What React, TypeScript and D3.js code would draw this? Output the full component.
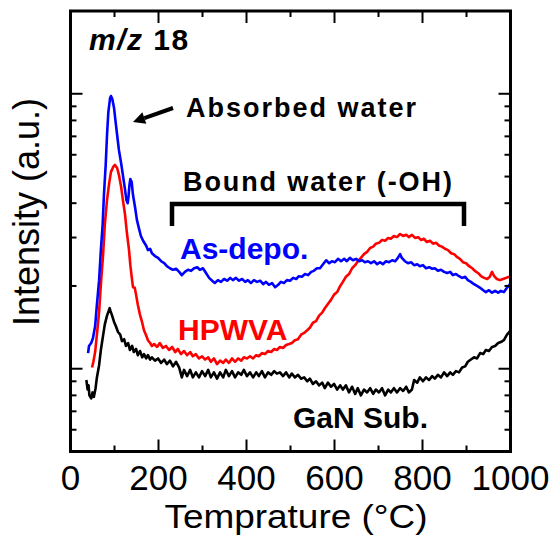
import React from 'react';
import * as d3 from 'd3';

const W = 551;
const H = 536;

const xMajorTicks = [0, 200, 400, 600, 800, 1000];
const xMinorTicks = [100, 300, 500, 700, 900];
const yTicks = [0.6, 0.7, 0.8, 0.9, 1, 2, 3, 4, 5, 6, 7, 8, 9, 10];
const yMajorTicks = [1, 10];

// [temperature (°C), intensity (a.u.)]
const asDepo: [number, number][] = [[40,1.14],[42,1.21],[47,1.24],[51,1.29],[56,1.43],[60,1.71],[65,2.10],[69,2.70],[73,3.34],[76,4.29],[80,5.51],[83,7.08],[86,8.58],[90,9.65],[92,9.81],[95,9.57],[99,8.87],[102,8.03],[106,7.08],[110,6.25],[115,5.60],[119,5.07],[124,4.47],[127,4.11],[130,4.00],[132,4.25],[134,4.66],[136,4.90],[139,4.78],[142,4.29],[147,3.84],[151,3.47],[156,3.22],[160,3.04],[165,2.92],[172,2.80],[176,2.70],[181,2.73],[185,2.63],[192,2.57],[199,2.53],[206,2.46],[213,2.42],[219,2.36],[226,2.32],[233,2.29],[240,2.31],[247,2.25],[253,2.19],[260,2.25],[267,2.29],[274,2.27],[281,2.32],[288,2.34],[294,2.29],[301,2.32],[308,2.23],[315,2.14],[322,2.09],[328,2.05],[335,2.10],[342,2.07],[349,2.12],[356,2.09],[363,2.14],[369,2.10],[376,2.14],[383,2.09],[390,2.12],[397,2.07],[403,2.10],[410,2.05],[417,2.10],[424,2.07],[431,2.09],[438,2.03],[444,2.07],[451,2.02],[458,2.05],[465,1.98],[472,2.02],[478,2.07],[485,2.05],[492,2.10],[499,2.09],[506,2.14],[513,2.12],[519,2.17],[526,2.16],[533,2.21],[540,2.19],[547,2.25],[553,2.27],[560,2.32],[567,2.32],[574,2.40],[581,2.48],[588,2.42],[594,2.46],[601,2.44],[608,2.51],[615,2.46],[622,2.51],[628,2.46],[635,2.53],[642,2.48],[649,2.51],[656,2.46],[663,2.48],[669,2.44],[676,2.46],[683,2.42],[690,2.46],[697,2.40],[703,2.44],[710,2.40],[717,2.46],[724,2.44],[731,2.48],[738,2.46],[744,2.53],[749,2.61],[753,2.53],[760,2.46],[767,2.42],[774,2.44],[781,2.38],[788,2.40],[794,2.36],[801,2.38],[808,2.32],[815,2.34],[822,2.31],[828,2.32],[835,2.27],[842,2.29],[849,2.25],[856,2.23],[863,2.25],[869,2.19],[876,2.21],[883,2.17],[890,2.14],[897,2.16],[903,2.10],[910,2.07],[917,2.03],[924,2.00],[931,1.97],[938,1.93],[944,1.90],[951,1.93],[958,1.89],[965,1.92],[972,1.89],[978,1.92],[985,1.90],[992,1.97],[999,2.03]];

const hpwva: [number, number][] = [[49,1.01],[52,1.06],[56,1.15],[60,1.33],[65,1.61],[69,2.02],[74,2.59],[78,3.34],[83,4.11],[88,4.74],[92,5.20],[97,5.42],[101,5.51],[106,5.37],[110,5.07],[115,4.59],[119,4.11],[124,3.63],[128,3.14],[133,2.70],[136,2.38],[140,2.10],[142,1.98],[146,1.97],[149,1.86],[153,1.71],[158,1.57],[163,1.47],[167,1.38],[172,1.32],[176,1.27],[181,1.24],[185,1.21],[190,1.23],[197,1.20],[203,1.24],[210,1.19],[217,1.21],[224,1.17],[231,1.20],[238,1.15],[244,1.18],[251,1.13],[258,1.16],[265,1.12],[272,1.15],[278,1.11],[285,1.13],[292,1.09],[299,1.11],[306,1.08],[313,1.10],[319,1.06],[326,1.09],[333,1.04],[340,1.07],[347,1.05],[353,1.08],[360,1.05],[367,1.09],[374,1.06],[381,1.09],[388,1.07],[394,1.10],[401,1.09],[408,1.11],[415,1.09],[422,1.12],[428,1.11],[435,1.14],[442,1.13],[449,1.16],[456,1.15],[463,1.18],[469,1.17],[476,1.20],[483,1.19],[490,1.22],[497,1.23],[503,1.24],[510,1.27],[517,1.28],[524,1.33],[531,1.35],[538,1.38],[544,1.41],[551,1.47],[558,1.49],[565,1.56],[572,1.60],[578,1.66],[585,1.72],[592,1.78],[599,1.86],[606,1.90],[613,2.00],[619,2.07],[626,2.16],[633,2.21],[640,2.32],[647,2.38],[653,2.46],[660,2.53],[667,2.61],[674,2.66],[681,2.75],[688,2.78],[694,2.85],[701,2.87],[708,2.94],[715,2.92],[722,2.99],[728,2.97],[735,3.04],[742,3.01],[749,3.09],[756,3.04],[763,3.07],[769,3.01],[776,3.07],[783,2.99],[790,3.01],[797,2.94],[803,2.97],[810,2.89],[817,2.92],[824,2.85],[831,2.87],[838,2.80],[844,2.78],[851,2.73],[858,2.70],[865,2.63],[872,2.61],[878,2.55],[885,2.51],[892,2.44],[899,2.42],[906,2.36],[913,2.32],[919,2.27],[926,2.23],[933,2.17],[940,2.14],[947,2.12],[953,2.16],[958,2.25],[963,2.17],[969,2.12],[976,2.10],[983,2.12],[990,2.14],[997,2.16],[1000,2.17]];

const ganSub: [number, number][] = [[36,0.91],[39,0.84],[41,0.87],[43,0.80],[47,0.78],[50,0.82],[53,0.79],[57,0.85],[60,0.93],[65,1.03],[69,1.17],[74,1.32],[78,1.45],[83,1.56],[89,1.66],[91,1.62],[94,1.57],[99,1.48],[103,1.43],[108,1.36],[113,1.33],[117,1.26],[122,1.28],[126,1.21],[131,1.24],[135,1.17],[140,1.21],[144,1.15],[149,1.18],[153,1.12],[158,1.16],[163,1.10],[167,1.13],[172,1.09],[176,1.12],[181,1.08],[185,1.10],[192,1.07],[199,1.09],[206,1.05],[213,1.08],[219,1.04],[226,1.07],[233,1.02],[240,1.06],[247,1.01],[253,0.93],[258,0.99],[265,0.94],[272,0.99],[278,0.93],[285,0.97],[292,0.93],[299,0.98],[306,0.94],[313,0.99],[319,0.93],[326,0.97],[333,0.92],[340,0.97],[347,0.93],[353,0.99],[360,0.94],[367,0.98],[374,0.93],[381,0.97],[388,0.95],[394,0.99],[401,0.94],[408,0.97],[415,0.93],[422,0.97],[428,0.94],[435,0.98],[442,0.93],[449,0.97],[456,0.95],[463,0.98],[469,0.96],[476,0.97],[483,0.94],[490,0.97],[497,0.93],[503,0.96],[510,0.93],[517,0.95],[524,0.92],[531,0.93],[538,0.90],[544,0.92],[551,0.88],[558,0.90],[565,0.87],[572,0.89],[578,0.85],[585,0.89],[592,0.86],[599,0.88],[606,0.84],[613,0.87],[619,0.84],[626,0.87],[633,0.82],[640,0.86],[647,0.81],[653,0.85],[660,0.80],[667,0.84],[674,0.82],[681,0.85],[688,0.81],[694,0.84],[701,0.82],[708,0.85],[715,0.80],[722,0.84],[728,0.82],[735,0.85],[742,0.82],[749,0.85],[756,0.83],[763,0.86],[769,0.82],[776,0.84],[781,0.91],[788,0.89],[794,0.93],[801,0.90],[808,0.93],[815,0.91],[822,0.94],[828,0.92],[835,0.95],[842,0.93],[849,0.97],[856,0.94],[863,0.97],[869,0.95],[876,0.98],[883,0.97],[890,1.01],[897,1.02],[903,1.06],[910,1.08],[917,1.10],[924,1.09],[931,1.14],[938,1.13],[944,1.17],[951,1.16],[958,1.20],[965,1.21],[972,1.24],[978,1.25],[985,1.27],[992,1.33],[999,1.37]];

const FONT = '"Liberation Sans", Arial, Helvetica, sans-serif';
const BLUE = '#0000ff';
const RED = '#ff0000';

export default function App() {
  const left = 70.5, right = 510.5, top = 11, bottom = 451.5;
  const x = d3.scaleLinear().domain([0, 1000]).range([left, right]);
  const y = d3.scaleLog().domain([0.5, 20]).range([bottom, top]);
  const line = d3.line<[number, number]>().x(d => x(d[0])).y(d => y(d[1]));

  const majLen = 12, minLen = 6;

  // arrow geometry
  const ax0 = 173, ay0 = 108, ax1 = 133, ay1 = 122;
  const ang = Math.atan2(ay1 - ay0, ax1 - ax0);
  const hl = 12, hw = 6;
  const bx = ax1 - hl * Math.cos(ang), by = ay1 - hl * Math.sin(ang);
  const head = `${ax1},${ay1} ${bx + hw * Math.sin(ang)},${by - hw * Math.cos(ang)} ${bx - hw * Math.sin(ang)},${by + hw * Math.cos(ang)}`;

  return (
    <svg width={W} height={H} style={{ position: 'absolute', left: 0, top: 0, background: '#fff' }} fontFamily={FONT}>
      <defs>
        <clipPath id="plot">
          <rect x={left} y={top} width={right - left} height={bottom - top} />
        </clipPath>
      </defs>
      <rect x={0} y={0} width={W} height={H} fill="#fff" />
      <g clipPath="url(#plot)" fill="none" strokeWidth={2.6} strokeLinejoin="round">
        <path d={line(ganSub) || ''} stroke="#000" />
        <path d={line(hpwva) || ''} stroke={RED} />
        <path d={line(asDepo) || ''} stroke={BLUE} />
      </g>
      {/* ticks */}
      <g stroke="#000" strokeWidth={2}>
        {xMajorTicks.map(v => (
          <g key={'xM' + v}>
            <line x1={x(v)} x2={x(v)} y1={bottom} y2={bottom - majLen} />
            <line x1={x(v)} x2={x(v)} y1={top} y2={top + majLen} />
          </g>
        ))}
        {xMinorTicks.map(v => (
          <g key={'xm' + v}>
            <line x1={x(v)} x2={x(v)} y1={bottom} y2={bottom - minLen} />
            <line x1={x(v)} x2={x(v)} y1={top} y2={top + minLen} />
          </g>
        ))}
        {yTicks.map(v => {
          const L = yMajorTicks.includes(v) ? majLen : minLen;
          return (
            <g key={'y' + v}>
              <line x1={left} x2={left + L} y1={y(v)} y2={y(v)} />
              <line x1={right} x2={right - L} y1={y(v)} y2={y(v)} />
            </g>
          );
        })}
      </g>
      <rect x={left} y={top} width={right - left} height={bottom - top} fill="none" stroke="#000" strokeWidth={3} />
      {/* tick labels */}
      <g fontSize={35} textAnchor="middle" fill="#000">
        {xMajorTicks.map(v => (
          <text key={'xl' + v} x={x(v)} y={490}>{v}</text>
        ))}
      </g>
      <text transform="translate(296,528) scale(1.12,1)" fontSize={33} textAnchor="middle">Temprature (°C)</text>
      <text transform="translate(39,212) rotate(-90)" fontSize={36} textAnchor="middle">Intensity (a.u.)</text>
      {/* annotations */}
      <text x={89} y={50} fontSize={30} fontWeight="bold" letterSpacing={1.5}><tspan fontStyle="italic">m/z</tspan> 18</text>
      <text x={186} y={117} fontSize={27} fontWeight="bold" letterSpacing={2}>Absorbed water</text>
      <line x1={ax0} y1={ay0} x2={bx} y2={by} stroke="#000" strokeWidth={4} />
      <polygon points={head} fill="#000" />
      <text x={183} y={191} fontSize={27} fontWeight="bold" letterSpacing={1.9}>Bound water (-OH)</text>
      <path d="M172,226 V204 H464 V226" fill="none" stroke="#000" strokeWidth={4.5} />
      <text x={180} y={259} fontSize={30} fontWeight="bold" fill={BLUE}>As-depo.</text>
      <text x={178} y={340} fontSize={30} fontWeight="bold" fill={RED}>HPWVA</text>
      <text x={293} y={428} fontSize={30} fontWeight="bold" fill="#000">GaN Sub.</text>
    </svg>
  );
}
